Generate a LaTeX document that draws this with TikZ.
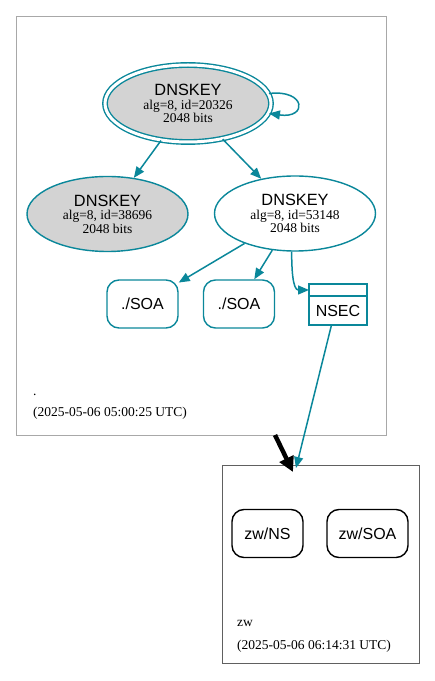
\documentclass[tikz,border=0pt]{standalone}
\usepackage{fontspec}
\setmainfont{Liberation Serif}
\setsansfont{Liberation Sans}
\usetikzlibrary{shapes.geometric,arrows.meta,positioning}
\definecolor{secure}{HTML}{0A879A}
\definecolor{keygray}{HTML}{D3D3D3}
\definecolor{rootline}{HTML}{A8A8A8}
\definecolor{zwline}{HTML}{606060}
\tikzset{
  keynode/.style={ellipse, draw=secure, line width=1.4pt, inner sep=0pt,
    minimum width=161pt, minimum height=75pt, align=center,
    font=\fontsize{13.5}{13.5}\selectfont},
  rrnode/.style={rectangle, rounded corners=12pt, draw=secure, line width=1.4pt,
    minimum width=71pt, minimum height=48pt, font=\sffamily\fontsize{16}{18}\selectfont},
  nsecnode/.style={rectangle, draw=secure, line width=2.4pt, outer sep=0pt,
    minimum width=58pt, minimum height=29pt, inner sep=0pt,
    font=\sffamily\fontsize{16}{18}\selectfont},
  zonebox/.style={rectangle, draw, line width=0.9pt},
  stamp/.style={anchor=base west, inner sep=0pt, font=\fontsize{13.5}{16}\selectfont},
  edge/.style={draw=secure, line width=1.5pt, -{Triangle[length=11pt,width=9pt]}},
  delegation/.style={draw=black, line width=4.5pt, -{Triangle[length=15pt,width=15pt]}}
}
\newcommand{\dnskey}[1]{{\sffamily\fontsize{16.3}{14}\selectfont DNSKEY}\\alg=8, id=#1\\2048 bits}
\begin{document}
\begin{tikzpicture}[x=1pt,y=1pt]
  \useasboundingbox (0,0) rectangle (435,681);
  % zones
  \node[zonebox, draw=rootline, minimum width=370pt, minimum height=419pt] (root) at (201,455.5) {};
  \node[zonebox, draw=zwline, minimum width=197pt, minimum height=198pt] (zw) at (320.5,117) {};
  \node[stamp] (rootname) at (33,285) {.};
  \node[stamp] (rootdate) at (33,264) {(2025-05-06 05:00:25 UTC)};
  \node[stamp] (zwname) at (237,54) {zw};
  \node[stamp] (zwdate) at (237,31) {(2025-05-06 06:14:31 UTC)};
  % keys
  \node[keynode, fill=keygray, double=white, double distance=3pt,
        minimum width=166pt, minimum height=77pt] (ktop) at (188,577.5) {\dnskey{20326}};
  \node[keynode, fill=keygray] (kleft) at (107.5,467) {\dnskey{38696}};
  \node[keynode] (kright) at (295,467.5) {\dnskey{53148}};
  % records
  \node[rrnode] (soaa) at (142.5,377) {./SOA};
  \node[rrnode] (soab) at (239,377) {./SOA};
  \node[nsecnode] (nsec) at (338,370.5) {NSEC};
  \node[nsecnode, minimum height=12pt, above=0pt of nsec] (nsechead) {};
  \node[rrnode, draw=black] (zwns) at (267.5,147.5) {zw/NS};
  \node[rrnode, draw=black, minimum width=81pt] (zwsoa) at (367.5,147.5) {zw/SOA};
  % edges
  \draw[edge] (ktop.7) .. controls (306,592) and (308,562) .. (ktop.-7);
  \draw[edge] (ktop) -- (kleft);
  \draw[edge] (ktop) -- (kright);
  \draw[edge] (kright) -- (soaa);
  \draw[edge] (kright) -- (soab);
  \draw[edge] (kright.265) to[out=-90, in=180] (nsechead.west);
  \coordinate (rootexit) at (275,246);
  \coordinate (zwentry) at (293,209);
  \coordinate (zwnsec) at (296,213);
  \draw[edge] ([xshift=-6.5pt]nsec.south) -- (zwnsec);
  \draw[delegation] (rootexit) -- (zwentry);
\end{tikzpicture}
\end{document}
